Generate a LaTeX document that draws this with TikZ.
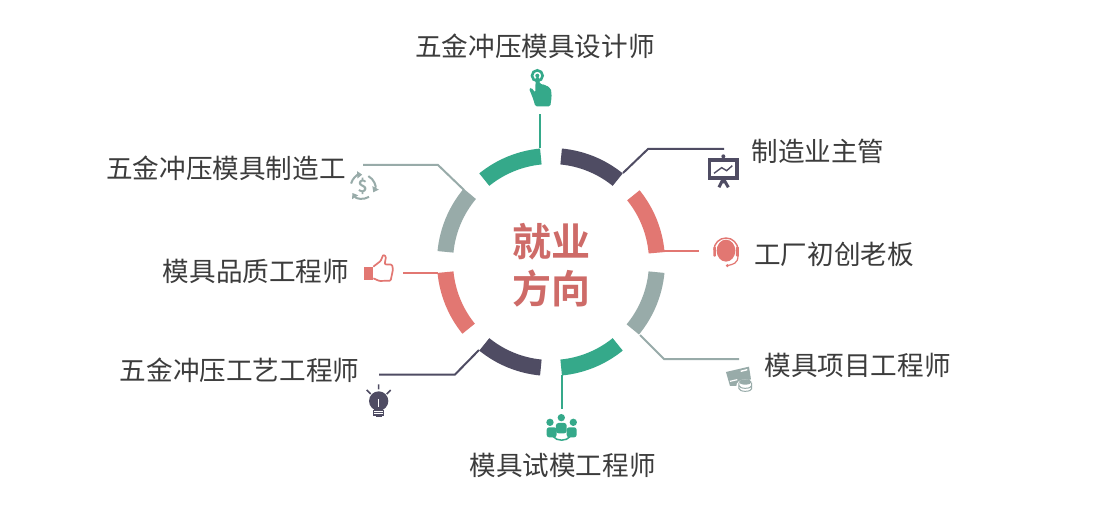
\documentclass[tikz,border=0pt]{standalone}
\usepackage{fontspec}
\usetikzlibrary{calc,arrows.meta}
\setmainfont{Noto Sans CJK SC}
\newfontfamily\cjkbold{Noto Sans CJK SC Bold}
\definecolor{cgreen}{HTML}{35A98A}
\definecolor{cdark}{HTML}{4F4C63}
\definecolor{cred}{HTML}{E27772}
\definecolor{cgray}{HTML}{98ABA9}
\definecolor{ctitle}{HTML}{CE6B68}
\definecolor{ctext}{HTML}{3C3C3C}
\tikzset{
  lbl/.style={font=\fontsize{26.6}{30}\selectfont,text=ctext,inner sep=0pt},
  ttl/.style={font=\cjkbold\fontsize{39}{42}\selectfont,text=ctitle,inner sep=0pt},
  conn/.style={line width=2pt,line join=miter},
  zoomed/.style={shift={(#1)},scale=0.3333},
}
\newcommand{\ringseg}[3]{%
  \fill[#3] ($(551,262)+(#1:114pt)$) arc[start angle=#1,end angle=#2,radius=114pt]
    -- ($(551,262)+(#2:98pt)$) arc[start angle=#2,end angle=#1,radius=98pt] -- cycle;}
\begin{document}
\begin{tikzpicture}[x=1pt,y=-1pt]
\useasboundingbox[fill=white] (0,0) rectangle (1120,508);
% ring
\ringseg{95.5}{129}{cgreen}
\ringseg{84.5}{51}{cdark}
\ringseg{39}{5}{cred}
\ringseg{-5.5}{-39.5}{cgray}
\ringseg{-84.5}{-51}{cgreen}
\ringseg{-95.5}{-129}{cdark}
\ringseg{-174.5}{-141}{cred}
\ringseg{174.5}{140}{cgray}
% anchors
\coordinate (a1) at (540,148); \coordinate (e1) at (540,114);
\coordinate (a2) at (623,173); \coordinate (k2) at (648,149); \coordinate (e2) at (724,149);
\coordinate (a3) at (664,251); \coordinate (e3) at (699,251);
\coordinate (a4) at (640,335); \coordinate (k4) at (664,359); \coordinate (e4) at (739,359);
\coordinate (a5) at (561.5,375); \coordinate (e5) at (561.5,409);
\coordinate (a6) at (479,350); \coordinate (k6) at (455,374.5); \coordinate (e6) at (379,374.5);
\coordinate (a7) at (438,272.5); \coordinate (e7) at (403,272.5);
\coordinate (a8) at (464,190); \coordinate (k8) at (438,165); \coordinate (e8) at (363,165);
\draw[conn,cgreen] (a1) -- (e1);
\draw[conn,cdark] (a2) -- (k2) -- (e2);
\draw[conn,cred] (a3) -- (e3);
\draw[conn,cgray] (a4) -- (k4) -- (e4);
\draw[conn,cgreen] (a5) -- (e5);
\draw[conn,cdark] (a6) -- (k6) -- (e6);
\draw[conn,cred] (a7) -- (e7);
\draw[conn,cgray] (a8) -- (k8) -- (e8);
% labels
\node[lbl] (t1) at (535,46) {五金冲压模具设计师};
\node[lbl] (t2) at (818,151) {制造业主管};
\node[lbl] (t3) at (834,254) {工厂初创老板};
\node[lbl] (t4) at (857.5,365) {模具项目工程师};
\node[lbl] (t5) at (562.5,465) {模具试模工程师};
\node[lbl] (t6) at (239.5,370) {五金冲压工艺工程师};
\node[lbl] (t7) at (256,271) {模具品质工程师};
\node[lbl] (t8) at (226,168) {五金冲压模具制造工};
\node[ttl] (h1) at (551.5,242) {就业};
\node[ttl] (h2) at (551.5,289) {方向};
% hand
\begin{scope}[zoomed={420,60}]
\draw[cgreen,line width=2.6pt] (352,47) circle (16);
\fill[cgreen] (352,47) circle (6);
\fill[cgreen,rounded corners=1.5pt] (327,85) -- (334,83) -- (346,98) -- (347,50) -- (358,50) -- (359,72) -- (368,72) -- (372,76) -- (381,76) -- (385,82) -- (393,86) -- (395,110) -- (391,139) -- (346,139) -- (340,118) -- cycle;
\end{scope}
% presentation board
\begin{scope}[zoomed={620,130}]
\draw[cdark,line width=3.2pt,fill=white] (269,90) rectangle (351,144);
\fill[cdark] (310,79) circle (6);
\fill[cdark] (305,84) rectangle (315,90);
\draw[cdark,line width=3pt] (310,146) -- (297,172) (310,146) -- (310,160) (310,146) -- (325,172);
\draw[cdark,line width=1.4pt] (282,130) -- (305,113) -- (320,122) -- (337,107);
\end{scope}
% headset
\begin{scope}[zoomed={620,130}]
\fill[cred] (318,362) ellipse (28 and 33);
\draw[cred,line width=1.4pt] (282,360) arc[start angle=180,end angle=0,radius=36pt];
\fill[cred,rounded corners=1pt] (280,350) rectangle (288,380);
\fill[cred,rounded corners=1pt] (348,350) rectangle (357,380);
\draw[cred,line width=1.2pt] (354,378) .. controls (354,400) and (340,403) .. (322,407);
\fill[cred] (322,407) circle (5);
\end{scope}
% card and coins
\begin{scope}[zoomed={620,280}]
\fill[cgray] (318,276) -- (387,260) -- (393,298) -- (365,305) -- (350,318) -- (330,318) -- cycle;
\draw[white,line width=1.4pt] (362,274) -- (382,269);
\draw[white,line width=1.2pt] (330,304) -- (352,299);
\fill[white] (375,318) ellipse (26 and 20);
\fill[cgray] (376,306) ellipse (19 and 8);
\draw[cgray,line width=1pt] (357,308) -- (357,326) arc[start angle=180,end angle=360,x radius=19pt,y radius=8pt] -- (395,308);
\draw[cgray,line width=1pt] (357,317) arc[start angle=180,end angle=360,x radius=19pt,y radius=8pt];
\end{scope}
% dollar
\begin{scope}[zoomed={340,150}]
\draw[cgray,line width=2pt,-{Triangle[length=5pt,width=7pt]}] ($(68,110)+(165:36pt)$) arc[start angle=165,end angle=92,radius=36pt];
\draw[cgray,line width=2pt,-{Triangle[length=5pt,width=7pt]}] ($(68,110)+(62:36pt)$) arc[start angle=62,end angle=-28,radius=36pt];
\draw[cgray,line width=2pt,-{Triangle[length=5pt,width=7pt]}] ($(68,110)+(-58:36pt)$) arc[start angle=-58,end angle=-148,radius=36pt];
\end{scope}
\node[font=\cjkbold\fontsize{17}{17}\selectfont,text=cgray,inner sep=0pt] (d8) at (362.7,186.5) {\$};
% thumb
\begin{scope}[zoomed={340,150}]
\fill[cred] (72,350) rectangle (100,390);
\draw[cred,line width=1.7pt,line join=round,rounded corners=1pt] (100,350) -- (122,333) -- (130,314) -- (138,320) -- (134,343) -- (156,344) -- (159,358) -- (152,392) -- (118,393) -- (100,385);
\end{scope}
% bulb
\begin{scope}[zoomed={350,320}]
\fill[cdark] (86,243) circle (29);
\fill[cdark] (72,262) rectangle (100,272);
\draw[white,line width=1.2pt] (86,238) -- (86,262);
\draw[cdark,line width=1.2pt,fill=white] (71,272) rectangle (101,285);
\fill[cdark] (71,277) rectangle (101,280);
\fill[cdark] (77,285) rectangle (95,292);
\draw[cdark,line width=1.6pt] (86,193) -- (86,208) (50,210) -- (62,222) (122,210) -- (110,222);
\end{scope}
% people
\begin{scope}[zoomed={350,320}]
\fill[cgreen] (634,293) circle (11);
\fill[cgreen] (600,307) circle (11);
\fill[cgreen] (670,307) circle (11);
\fill[cgreen,rounded corners=2.5pt] (618,309) rectangle (650,340);
\fill[cgreen,rounded corners=2.5pt] (590,322) rectangle (620,352);
\fill[cgreen,rounded corners=2.5pt] (650,322) rectangle (680,352);
\draw[cgreen,line width=1.5pt] (610,350) .. controls (620,364) and (650,364) .. (660,350);
\end{scope}
\end{tikzpicture}
\end{document}
